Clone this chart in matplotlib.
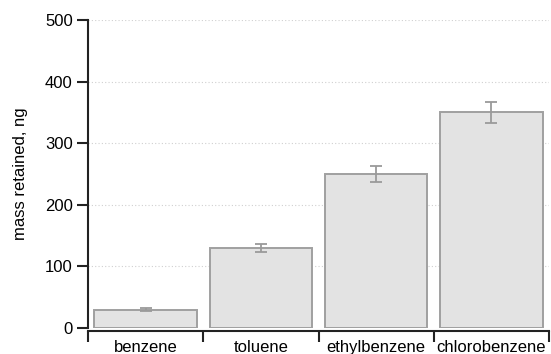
import numpy as np
import matplotlib.pyplot as plt

compounds = ['benzene', 'toluene', 'ethylbenzene', 'chlorobenzene']
mass = [30, 130, 250, 350]
err = [2, 6.5, 13, 17]


def main():
    plt.rcParams['font.family'] = ['Liberation Sans', 'DejaVu Sans']

    fig = plt.figure(figsize=(5.51, 3.54), dpi=100)
    ax = fig.add_axes([88 / 551, 1 - 328 / 354, 461 / 551, 308 / 354])

    x = np.arange(len(compounds))
    ax.bar(x, mass, width=0.89, color='#e3e3e3', edgecolor='#a0a0a0',
           linewidth=1.4, zorder=2)
    ax.errorbar(x, mass, yerr=err, fmt='none', ecolor='#9a9a9a',
                elinewidth=1.3, capsize=4, capthick=1.3, zorder=3)

    ax.set_xlim(-0.5, 3.5)
    ax.set_ylim(0, 500)
    ax.set_yticks([0, 100, 200, 300, 400, 500])
    for v in [100, 200, 300, 400, 500]:
        ax.axhline(v, color='#d0d0d0', lw=0.8, ls=(0, (1, 2)), zorder=1)

    # group separators as major ticks, names centred as minor ticks
    ax.set_xticks(np.arange(-0.5, 4, 1))
    ax.set_xticklabels([])
    ax.set_xticks(x, minor=True)
    ax.set_xticklabels(compounds, minor=True)
    ax.tick_params(axis='x', which='major', direction='out', length=8,
                   width=1.5, color='#222222')
    ax.tick_params(axis='x', which='minor', length=0, pad=6, labelsize=12)
    ax.tick_params(axis='y', direction='out', length=8, width=1.5,
                   color='#222222', labelsize=12, pad=3)

    for side in ['top', 'right']:
        ax.spines[side].set_visible(False)
    ax.spines['left'].set_linewidth(1.5)
    ax.spines['left'].set_color('#222222')
    ax.spines['bottom'].set_linewidth(1.5)
    ax.spines['bottom'].set_color('#222222')
    ax.spines['bottom'].set_position(('outward', 2.5))

    ax.set_ylabel('mass retained, ng', fontsize=12, labelpad=12)

    plt.savefig('out.png', dpi=100)


if __name__ == '__main__':
    main()
